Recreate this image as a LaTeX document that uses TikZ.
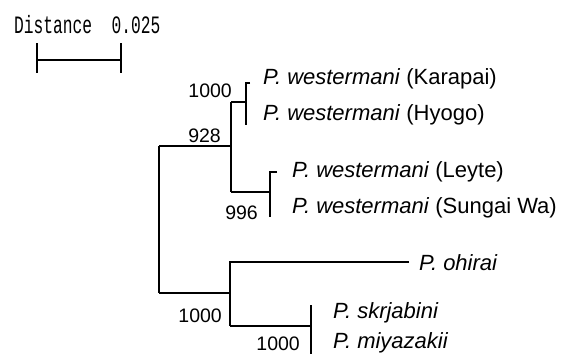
\documentclass[tikz,border=0pt]{standalone}
\usepackage{fontspec}
\setmainfont{Liberation Sans}
\newfontfamily\monof{Liberation Mono}
\begin{document}
\begin{tikzpicture}[x=1pt,y=-1pt,
  br/.style={line width=1.3pt},
  sbar/.style={line width=2.8pt},
  leaf/.style={anchor=base west, inner sep=0pt, font=\fontsize{22}{24}\selectfont},
  boot/.style={anchor=base east, inner sep=0pt, font=\fontsize{19.5}{21}\selectfont},
  title/.style={anchor=base west, inner sep=0pt, font=\monof\fontsize{25}{27}\selectfont}]
\useasboundingbox (0,0) rectangle (564,354);

% scale bar
\node[title] (dist) at (14,33) {\scalebox{0.65}[1]{Distance~~0.025}};
\coordinate (s1) at (37,60);
\coordinate (s2) at (121,60);
\coordinate (s1t) at (37,43);
\coordinate (s1b) at (37,73);
\coordinate (s2t) at (121,43);
\coordinate (s2b) at (121,73);
\draw[sbar] (s1) -- (s2);
\draw[sbar] (s1t) -- (s1b);
\draw[sbar] (s2t) -- (s2b);

% tree coordinates
\coordinate (r1) at (159,146);
\coordinate (r2) at (159,293);
\coordinate (a) at (231,146);
\coordinate (a1) at (231,102);
\coordinate (a2) at (231,192);
\coordinate (b) at (246,102);
\coordinate (kar) at (250,83);
\coordinate (hyo) at (246,125);
\coordinate (c) at (270,192);
\coordinate (ley) at (277,172);
\coordinate (sun) at (270,217);
\coordinate (d) at (230,293);
\coordinate (ohi) at (409,262);
\coordinate (e2) at (230,326);
\coordinate (e) at (311,326);
\coordinate (skr) at (311,305);
\coordinate (miy) at (311,354);

% branches
\draw[br] (r1) -- (r2);
\draw[br] (r1) -- (a);
\draw[br] (a1) -- (a2);
\draw[br] (a1) -- (b);
\draw[br] (kar) -| (hyo);
\draw[br] (a2) -- (c);
\draw[br] (ley) -| (sun);
\draw[br] (r2) -- (d);
\draw[br] (ohi) -| (e2);
\draw[br] (e2) -- (e);
\draw[br] (skr) -- (miy);

% leaf labels
\node[leaf] (lkar) at (263,84) {\textit{P. westermani} (Karapai)};
\node[leaf] (lhyo) at (263,120) {\textit{P. westermani} (Hyogo)};
\node[leaf] (lley) at (292,177) {\textit{P. westermani} (Leyte)};
\node[leaf] (lsun) at (292,213) {\textit{P. westermani} (Sungai Wa)};
\node[leaf] (lohi) at (419,270) {\textit{P. ohirai}};
\node[leaf] (lskr) at (333,318) {\textit{P. skrjabini}};
\node[leaf] (lmiy) at (333,348) {\textit{P. miyazakii}};

% bootstrap values
\node[boot] (bs1) at (232,97) {1000};
\node[boot] (bs2) at (221,142) {928};
\node[boot] (bs3) at (258,219) {996};
\node[boot] (bs4) at (222,322) {1000};
\node[boot] (bs5) at (300,350) {1000};
\end{tikzpicture}
\end{document}
